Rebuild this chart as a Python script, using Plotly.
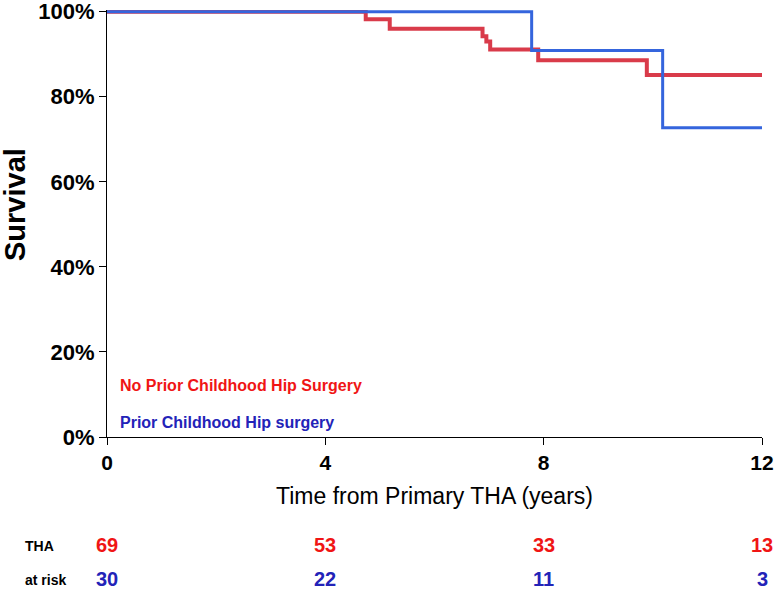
import plotly.graph_objects as go

# Kaplan-Meier survival (%), step times in years
no_prior_t = [0, 4.74, 5.18, 6.88, 6.95, 7.02, 7.90, 9.89, 12]
no_prior_s = [100, 98.2, 96.0, 94.2, 93.0, 91.1, 88.6, 85.1, 85.1]
prior_t = [0, 7.78, 10.18, 12]
prior_s = [100, 90.9, 72.7, 72.7]

risk_times = [0, 4, 8, 12]
risk_no_prior = [69, 53, 33, 13]
risk_prior = [30, 22, 11, 3]

x_ticks = [0, 4, 8, 12]
y_ticks = [0, 20, 40, 60, 80, 100]
y_labels = ["0%", "20%", "40%", "60%", "80%", "100%"]

RED_LINE = "#d93b4a"
BLUE_LINE = "#3565dd"
RED_TXT = "#f01515"
BLUE_TXT = "#2323b8"
SANS = "Liberation Sans, Arial, sans-serif"

W, H = 774, 593
ML, MR, MT, MB = 107, 12, 10, 156
PH = H - MT - MB

def py(ypix):
    """pixel row -> paper coordinate"""
    return (H - MB - ypix) / PH

def px(xpix):
    return (xpix - ML) / (W - ML - MR)

fig = go.Figure()
fig.add_trace(go.Scatter(x=no_prior_t, y=no_prior_s, mode="lines",
                         line=dict(color=RED_LINE, width=4, shape="hv"),
                         name="No Prior Childhood Hip Surgery", showlegend=False))
fig.add_trace(go.Scatter(x=prior_t, y=prior_s, mode="lines",
                         line=dict(color=BLUE_LINE, width=3, shape="hv"),
                         name="Prior Childhood Hip surgery", showlegend=False))

ann = []
ann.append(dict(x=px(118), y=py(385), xref="paper", yref="paper", xanchor="left", yanchor="middle",
                text="<b>No Prior Childhood Hip Surgery</b>", showarrow=False,
                font=dict(family=SANS, size=16, color=RED_TXT)))
ann.append(dict(x=px(118), y=py(422), xref="paper", yref="paper", xanchor="left", yanchor="middle",
                text="<b>Prior Childhood Hip surgery</b>", showarrow=False,
                font=dict(family=SANS, size=16, color=BLUE_TXT)))

for t, a, b in zip(risk_times, risk_no_prior, risk_prior):
    ann.append(dict(x=t, y=py(545), xref="x", yref="paper", xanchor="center", yanchor="middle",
                    text=f"<b>{a}</b>", showarrow=False,
                    font=dict(family=SANS, size=20, color=RED_TXT)))
    ann.append(dict(x=t, y=py(579), xref="x", yref="paper", xanchor="center", yanchor="middle",
                    text=f"<b>{b}</b>", showarrow=False,
                    font=dict(family=SANS, size=20, color=BLUE_TXT)))

ann.append(dict(x=px(39), y=py(546), xref="paper", yref="paper", xanchor="center", yanchor="middle",
                text="<b>THA</b>", showarrow=False,
                font=dict(family=SANS, size=14, color="black")))
ann.append(dict(x=px(45), y=py(580), xref="paper", yref="paper", xanchor="center", yanchor="middle",
                text="<b>at risk</b>", showarrow=False,
                font=dict(family=SANS, size=14, color="black")))
ann.append(dict(x=px(15), y=py(205), xref="paper", yref="paper", xanchor="center", yanchor="middle",
                text="<b>Survival</b>", showarrow=False, textangle=-90,
                font=dict(family=SANS, size=29, color="black")))

fig.update_layout(
    width=W, height=H,
    margin=dict(l=ML, r=MR, t=MT, b=MB, autoexpand=False),
    paper_bgcolor="white", plot_bgcolor="white",
    annotations=ann,
    xaxis=dict(range=[0, 12], tickvals=x_ticks, ticktext=[f"<b>{v}</b>" for v in x_ticks],
               ticks="outside", ticklen=7,
               tickcolor="black", showline=True, linecolor="black", linewidth=1,
               showgrid=False, zeroline=False, automargin=False,
               ticklabeloverflow="allow",
               tickfont=dict(family=SANS, size=21, color="black"),
               title=dict(text="Time from Primary THA (years)", standoff=14,
                          font=dict(family=SANS, size=23, color="black"))),
    yaxis=dict(range=[0, 100.4], tickvals=y_ticks, ticktext=[f"<b>{l}</b>" for l in y_labels],
               ticks="outside", ticklen=7, tickcolor="black",
               showline=True, linecolor="black", linewidth=1,
               showgrid=False, zeroline=False, automargin=False,
               ticklabeloverflow="allow",
               tickfont=dict(family=SANS, size=22, color="black")),
)
fig.write_html("out.html", config={"displayModeBar": False},
               post_script="document.body.style.margin='0px';document.body.style.padding='0px';")
